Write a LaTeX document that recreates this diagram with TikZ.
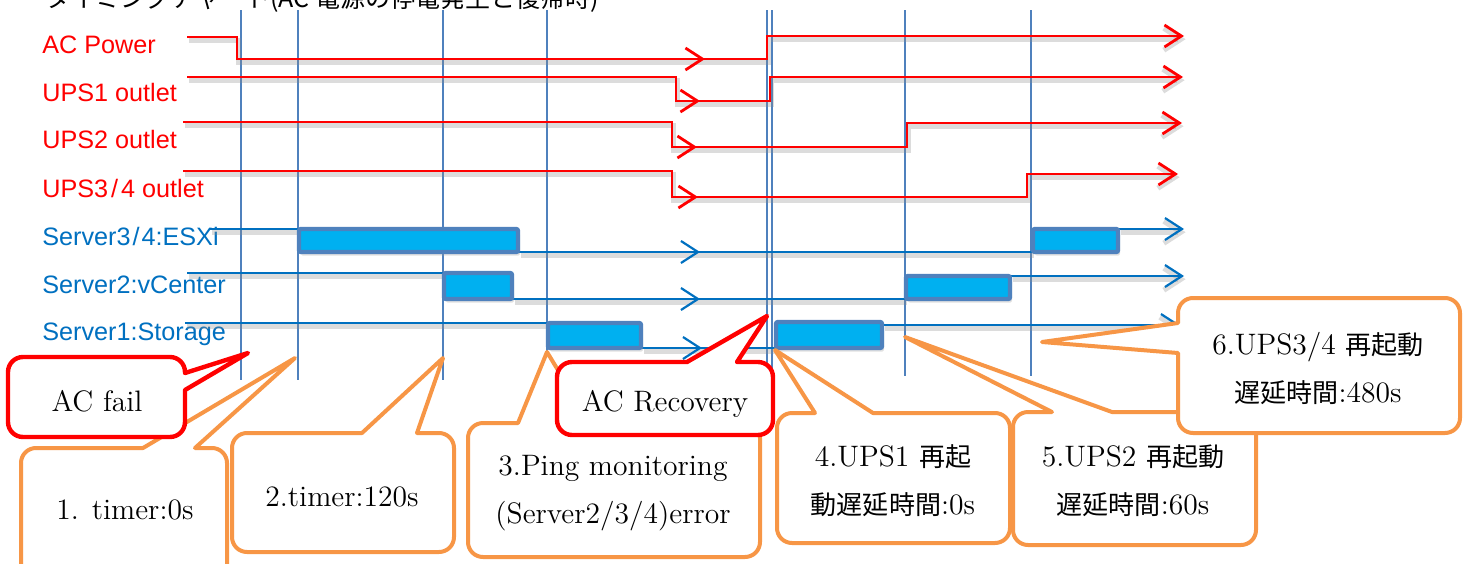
\documentclass[tikz,border=0pt]{standalone}
\usepackage{fontspec}
\usetikzlibrary{arrows.meta}
\newfontfamily\lblfont{Liberation Sans}
\newfontfamily\cjk{Noto Sans CJK JP}
\newfontfamily\cjkc{Noto Sans CJK JP}[Scale=0.88]
\definecolor{sigred}{HTML}{FF0000}
\definecolor{sigblue}{HTML}{0070C0}
\definecolor{gridblue}{HTML}{4F81BD}
\definecolor{barcyan}{HTML}{00B0F0}
\definecolor{calloutorange}{HTML}{F79646}
\tikzset{
  softshadow/.style={preaction={draw=black!45, opacity=0.3, line width=2.6pt,
      transform canvas={shift={(0.8pt,-1.6pt)}}}},
  tipend/.style={-{Straight Barb[length=8.5pt,width=11pt]}},
  marker/.style={draw=gridblue, line width=0.8pt},
  redsig/.style={draw=sigred, line width=1.4pt},
  bluesig/.style={draw=sigblue, line width=1.1pt},
  barbox/.style={draw=gridblue, fill=barcyan, line width=2.2pt, rounded corners=1pt,
      preaction={fill=black!40, opacity=0.3, transform canvas={shift={(1pt,-1.8pt)}}}},
  lbl/.style={anchor=base west, inner sep=0, font=\lblfont\fontsize{12.6}{15}\selectfont},
  callout/.style={draw=calloutorange, fill=white, line width=2pt, line join=round},
  redcallout/.style={draw=sigred, fill=white, line width=2.2pt, line join=round},
  ctext/.style={font=\fontsize{14.8}{24}\selectfont, align=center, inner sep=0},
}
\begin{document}
\begin{tikzpicture}[x=0.5pt, y=-0.5pt]
\useasboundingbox (0,0) rectangle (1463,563);
\clip (0,0) rectangle (1463,563);

% heading (runs past the top edge)
\node[anchor=base west, inner sep=0, font=\cjk\fontsize{12.5}{15}\selectfont] (title)
  at (45,7) {タイミングチャート(AC 電源の停電発生と復帰時)};

% signal names
\node[lbl, text=sigred] (lac)   at (42,53)  {AC Power};
\node[lbl, text=sigred] (lups1) at (42,101) {UPS1 outlet};
\node[lbl, text=sigred] (lups2) at (42,148) {UPS2 outlet};
\node[lbl, text=sigred] (lups3) at (42,197) {UPS3\kern1.5pt/\kern1.5pt4 outlet};
\node[lbl, text=sigblue] (lsv3) at (42,245) {Server3\kern1pt/\kern1pt4:ESXi};
\node[lbl, text=sigblue] (lsv2) at (42,293) {Server2:vCenter};
\node[lbl, text=sigblue] (lsv1) at (42,340) {Server1:Storage};

% event markers
\foreach \x/\b in {241/380, 298/380, 443/380, 547/352, 767/380, 772/380, 905/376, 1031/376}
  \draw[marker] (\x,10) -- (\x,\b);

% power signals
\draw[redsig, softshadow, tipend] (187,37) -- (237,37) -- (237,59) -- (767,59) -- (767,36) -- (1184,36);
\draw[redsig, softshadow, tipend] (187,77) -- (676,77) -- (676,101) -- (770,101) -- (770,77) -- (1183,77);
\draw[redsig, softshadow, tipend] (183,122) -- (672,122) -- (672,147) -- (907,147) -- (907,123) -- (1182,123);
\draw[redsig, softshadow, tipend] (183,171) -- (672,171) -- (672,197) -- (1027,197) -- (1027,174) -- (1178,174);
\draw[redsig, tipend] (685,59) -- (705,59);
\draw[redsig, tipend] (682,101) -- (700,101);
\draw[redsig, tipend] (680,147) -- (697,147);
\draw[redsig, tipend] (680,197) -- (698,197);

% server signals
\draw[bluesig, softshadow] (210,229) -- (298,229);
\draw[bluesig, softshadow] (519,252) -- (1032,252);
\draw[bluesig, softshadow, tipend] (1119,229) -- (1184,229);
\draw[bluesig, softshadow] (187,273) -- (443,273);
\draw[bluesig, softshadow] (513,299) -- (905,299);
\draw[bluesig, softshadow, tipend] (1011,276) -- (1184,276);
\draw[bluesig, softshadow] (185,323) -- (547,323);
\draw[bluesig, softshadow] (642,348) -- (775,348);
\draw[bluesig, softshadow, tipend] (883,325) -- (1180,325);
\draw[bluesig, tipend] (680,252) -- (700,252);
\draw[bluesig, tipend] (680,299) -- (700,299);
\draw[bluesig, tipend] (682,348) -- (702,348);

% transition bars
\draw[barbox] (299,229) rectangle (518,252);
\draw[barbox] (1033,229) rectangle (1118,252);
\draw[barbox] (444,273) rectangle (512,299);
\draw[barbox] (906,276) rectangle (1010,299);
\draw[barbox] (548,323) rectangle (641,348);
\draw[barbox] (776,322) rectangle (882,348);

% callouts: rounded box with a sharp pointer
\draw[callout] (195,448) [rounded corners=7.5pt] -- (227,448) -- (227,600) -- (21,600) -- (21,448) [sharp corners] -- (143,448) -- (295,358) -- cycle;
\node[ctext] (t1) at (125,510) {1. timer:0s};

\draw[redcallout] (185,390) [rounded corners=7.5pt] -- (185,437) -- (8,437) -- (8,357) -- (185,357) [sharp corners] -- (185,373) -- (248,353) -- cycle;
\node[ctext] (tfail) at (97,401) {AC fail};

\draw[callout] (417,433) [rounded corners=7.5pt] -- (454,433) -- (454,552) -- (232,552) -- (232,433) [sharp corners] -- (362,433) -- (443,358) -- cycle;
\node[ctext] (t2) at (342,497) {2.timer:120s};

\draw[callout] (590,423) [rounded corners=7.5pt] -- (760,423) -- (760,557) -- (468,557) -- (468,423) [sharp corners] -- (518,423) -- (547,352) -- cycle;
\node[ctext] (t3) at (613,493) {3.Ping monitoring\\(Server2/3/4)error};

\draw[redcallout] (737,362) [rounded corners=7.5pt] -- (773,362) -- (773,435) -- (557,435) -- (557,362) [sharp corners] -- (687,362) -- (767,316) -- cycle;
\node[ctext] (trec) at (665,404) {AC Recovery};

\draw[callout] (873,413) [rounded corners=7.5pt] -- (1010,413) -- (1010,543) -- (777,543) -- (777,413) [sharp corners] -- (815,413) -- (775,350) -- cycle;
\node[ctext] (t4) at (893,481) {4.UPS1 {\cjkc 再起}\\{\cjkc 動遅延時間}:0s};

\draw[callout] (1112,412) [rounded corners=7.5pt] -- (1256,412) -- (1256,545) -- (1013,545) -- (1013,412) [sharp corners] -- (1052,412) -- (905,337) -- cycle;
\node[ctext] (t5) at (1133,481) {5.UPS2 {\cjkc 再起動}\\{\cjkc 遅延時間}:60s};

\draw[callout] (1178,353) [rounded corners=7.5pt] -- (1178,433) -- (1460,433) -- (1460,298) -- (1178,298) [sharp corners] -- (1178,323) -- (1042,342) -- cycle;
\node[ctext] (t6) at (1318,368) {6.UPS3/4 {\cjkc 再起動}\\{\cjkc 遅延時間}:480s};
\end{tikzpicture}
\end{document}
